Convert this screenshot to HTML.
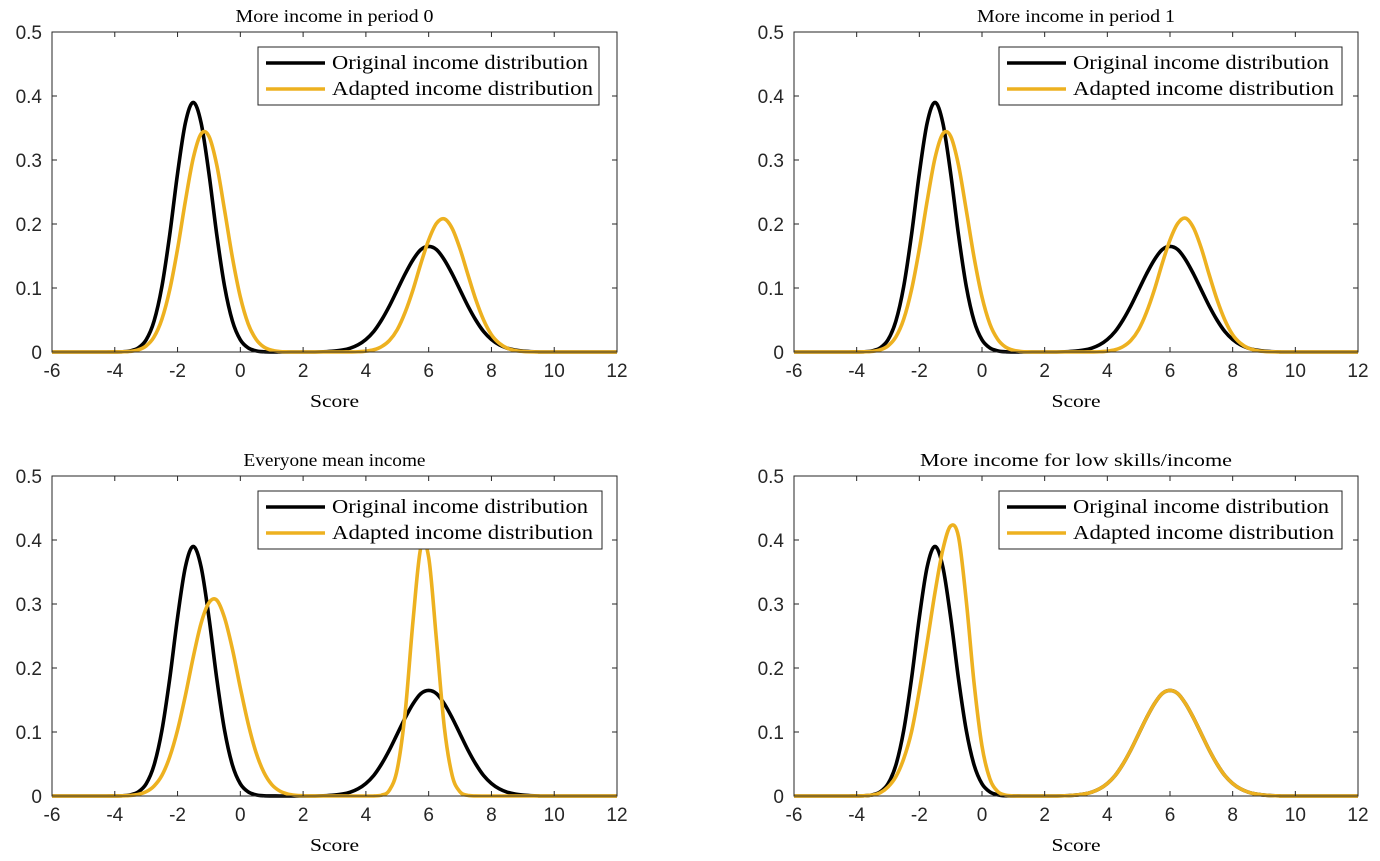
<!DOCTYPE html>
<html><head><meta charset="utf-8"><style>
html,body{margin:0;padding:0;background:#fff}
svg{display:block}
.tick{font-family:"Liberation Sans",Arial,sans-serif;font-size:19px;fill:#262626}
.ser{font-family:"Liberation Serif","DejaVu Serif",serif;fill:#000}
</style></head><body>
<svg id="chart" width="1380" height="861" viewBox="0 0 1380 861" xmlns="http://www.w3.org/2000/svg"></svg>
<script>
// shared x grid (score)
const xs = [-6,-4.5,-4.25,-4,-3.75,-3.5,-3.25,-3,-2.75,-2.5,-2.25,-2,-1.75,-1.5,-1.25,-1,-0.75,-0.5,-0.25,0,0.25,0.5,0.75,1,1.25,1.5,1.75,2,2.25,2.5,2.75,3,3.25,3.5,3.75,4,4.25,4.5,4.75,5,5.25,5.5,5.75,6,6.25,6.5,6.75,7,7.25,7.5,7.75,8,8.25,8.5,8.75,9,9.25,9.5,9.75,12];
const original = [0,0,0,0.0001,0.0004,0.0018,0.0064,0.019,0.048,0.102,0.183,0.279,0.358,0.39,0.358,0.279,0.183,0.102,0.048,0.019,0.0064,0.0018,0.0004,0.0001,0,0,0,0,0,0.0002,0.0006,0.0014,0.003,0.006,0.0112,0.0196,0.032,0.05,0.072,0.097,0.122,0.144,0.16,0.165,0.16,0.144,0.122,0.097,0.072,0.05,0.032,0.0196,0.0112,0.006,0.003,0.0014,0.0006,0.0002,0,0];
const adaptedP0 = [0,0,0,0.0001,0.0003,0.001,0.0034,0.0095,0.0234,0.051,0.097,0.161,0.236,0.303,0.341,0.337,0.292,0.221,0.147,0.086,0.044,0.02,0.0078,0.0027,0.0008,0.0002,0,0,0,0,0,0,0,0.0001,0.0004,0.0013,0.0035,0.0084,0.018,0.035,0.062,0.097,0.138,0.175,0.201,0.208,0.193,0.161,0.121,0.082,0.05,0.027,0.0136,0.006,0.0024,0.0009,0.0003,0.0001,0,0];
const adaptedP1 = [0,0,0,0.0001,0.0003,0.001,0.0034,0.0095,0.0234,0.051,0.097,0.161,0.236,0.303,0.341,0.337,0.292,0.221,0.147,0.086,0.044,0.02,0.0078,0.0027,0.0008,0.0002,0,0,0,0,0,0,0,0.0001,0.0004,0.0013,0.0035,0.0084,0.018,0.035,0.062,0.097,0.138,0.175,0.201,0.209,0.194,0.162,0.121,0.082,0.05,0.027,0.0136,0.006,0.0024,0.0009,0.0003,0.0001,0,0];
const adaptedMean = [0,0,0,0.0001,0.0003,0.0009,0.0026,0.0067,0.0155,0.032,0.061,0.103,0.157,0.217,0.27,0.302,0.306,0.278,0.229,0.169,0.113,0.068,0.037,0.018,0.008,0.0032,0.0011,0.0004,0.0001,0,0,0,0,0,0,0,0.0001,0.0013,0.009,0.042,0.13,0.273,0.388,0.373,0.243,0.107,0.032,0.0064,0.0009,0.0001,0,0,0,0,0,0,0,0,0,0];
const adaptedLow = [0,0,0,0.0001,0.0005,0.0015,0.005,0.014,0.03,0.058,0.1,0.165,0.24,0.318,0.385,0.422,0.405,0.304,0.175,0.078,0.027,0.007,0.0014,0.0002,0,0,0,0,0,0.0002,0.0006,0.0014,0.003,0.006,0.0112,0.0196,0.032,0.05,0.072,0.097,0.122,0.144,0.16,0.165,0.16,0.144,0.122,0.097,0.072,0.05,0.032,0.0196,0.0112,0.006,0.003,0.0014,0.0006,0.0002,0,0];
const xTicks = [-6,-4,-2,0,2,4,6,8,10,12];
const yTicks = [0,0.1,0.2,0.3,0.4,0.5];
const yTickLabels = ["0","0.1","0.2","0.3","0.4","0.5"];
const titles = ["More income in period 0","More income in period 1","Everyone mean income","More income for low skills/income"];
const adaptedSeries = [adaptedP0, adaptedP1, adaptedMean, adaptedLow];
const legendLabels = ["Original income distribution","Adapted income distribution"];

const NS="http://www.w3.org/2000/svg";
const svg=document.getElementById('chart');
function mk(tag,attrs,parent){const e=document.createElementNS(NS,tag);for(const k in attrs)e.setAttribute(k,attrs[k]);(parent||svg).appendChild(e);return e;}
const panels=[{x0:52,x1:617,y0:32,y1:352},{x0:794,x1:1358,y0:32,y1:352},{x0:52,x1:617,y0:476,y1:796},{x0:794,x1:1358,y0:476,y1:796}];
const legendBoxes=[{x:258,y:47,w:341},{x:999,y:47,w:343},{x:258,y:491,w:344},{x:999,y:491,w:343}];
const titleWidths=[198,198,182,312];
const legendTextWidths=[256,261];
function pathFor(xv,yv,sx,sy){
  const p=xv.map((x,i)=>[sx(x),sy(yv[i])]);
  let d='M'+p[0][0].toFixed(2)+','+p[0][1].toFixed(2);
  for(let i=0;i<p.length-1;i++){
    const p0=p[Math.max(0,i-1)],p1=p[i],p2=p[i+1],p3=p[Math.min(p.length-1,i+2)];
    let c1x=p1[0]+(p2[0]-p0[0])/6,c1y=p1[1]+(p2[1]-p0[1])/6;
    let c2x=p2[0]-(p3[0]-p1[0])/6,c2y=p2[1]-(p3[1]-p1[1])/6;
    c1y=Math.min(c1y,sy(0));c2y=Math.min(c2y,sy(0));
    if(i===0||i===p.length-2){c1x=p1[0]+(p2[0]-p1[0])/3;c1y=p1[1];c2x=p2[0]-(p2[0]-p1[0])/3;c2y=p2[1];}
    d+=' C'+c1x.toFixed(2)+','+c1y.toFixed(2)+' '+c2x.toFixed(2)+','+c2y.toFixed(2)+' '+p2[0].toFixed(2)+','+p2[1].toFixed(2);
  }
  return d;
}
panels.forEach((P,k)=>{
  const g=mk('g',{});
  
  
  const sx=v=>P.x0+(v+6)/18*(P.x1-P.x0);
  const sy=v=>P.y1-v/0.5*(P.y1-P.y0);
  const t=mk('text',{x:(P.x0+P.x1)/2,y:P.y0-10,'text-anchor':'middle','font-size':'18',class:'ser',textLength:titleWidths[k],lengthAdjust:'spacingAndGlyphs'},g);
  t.textContent=titles[k];
  
  
  const c1=mk('path',{d:pathFor(xs,original,sx,sy),fill:'none',stroke:'#000','stroke-width':'3.6','stroke-linejoin':'round'},g);
  
  
  const c2=mk('path',{d:pathFor(xs,adaptedSeries[k],sx,sy),fill:'none',stroke:'#EDB120','stroke-width':'3.6','stroke-linejoin':'round'},g);
  
  
  const box=mk('rect',{x:P.x0,y:P.y0,width:P.x1-P.x0,height:P.y1-P.y0,fill:'none',stroke:'#262626','stroke-width':'1'},g);
  
  
  xTicks.forEach(v=>{
    const x=sx(v);
    mk('line',{x1:x,y1:P.y1,x2:x,y2:P.y1-5,stroke:'#262626'},g);
    mk('line',{x1:x,y1:P.y0,x2:x,y2:P.y0+5,stroke:'#262626'},g);
    const tl=mk('text',{x:x,y:P.y1+25,'text-anchor':'middle',class:'tick'},g);
    tl.textContent=String(v);
    
    
  });
  yTicks.forEach((v,i)=>{
    const y=sy(v);
    mk('line',{x1:P.x0,y1:y,x2:P.x0+5,y2:y,stroke:'#262626'},g);
    mk('line',{x1:P.x1,y1:y,x2:P.x1-5,y2:y,stroke:'#262626'},g);
    const tl=mk('text',{x:P.x0-10,y:y+7,'text-anchor':'end',class:'tick'},g);
    tl.textContent=yTickLabels[i];
    
    
  });
  const xl=mk('text',{x:(P.x0+P.x1)/2,y:P.y1+55,'text-anchor':'middle','font-size':'18',class:'ser',textLength:49,lengthAdjust:'spacingAndGlyphs'},g);
  xl.textContent='Score';
  
  
  const L=legendBoxes[k];
  const lg=mk('g',{},g);
  
  
  mk('rect',{x:L.x,y:L.y,width:L.w,height:58,fill:'#fff',stroke:'#262626','stroke-width':'1'},lg);
  [['#000',0],['#EDB120',1]].forEach(([col,i])=>{
    const yy=L.y+16+i*26;
    const ln=mk('line',{x1:L.x+8,y1:yy,x2:L.x+67,y2:yy,stroke:col,'stroke-width':'3.6'},lg);
    
    
    const tx=mk('text',{x:L.x+74,y:yy+6,'font-size':'20',class:'ser',textLength:legendTextWidths[i],lengthAdjust:'spacingAndGlyphs'},lg);
    tx.textContent=legendLabels[i];
    
    
  });
});
</script>
</body></html>
